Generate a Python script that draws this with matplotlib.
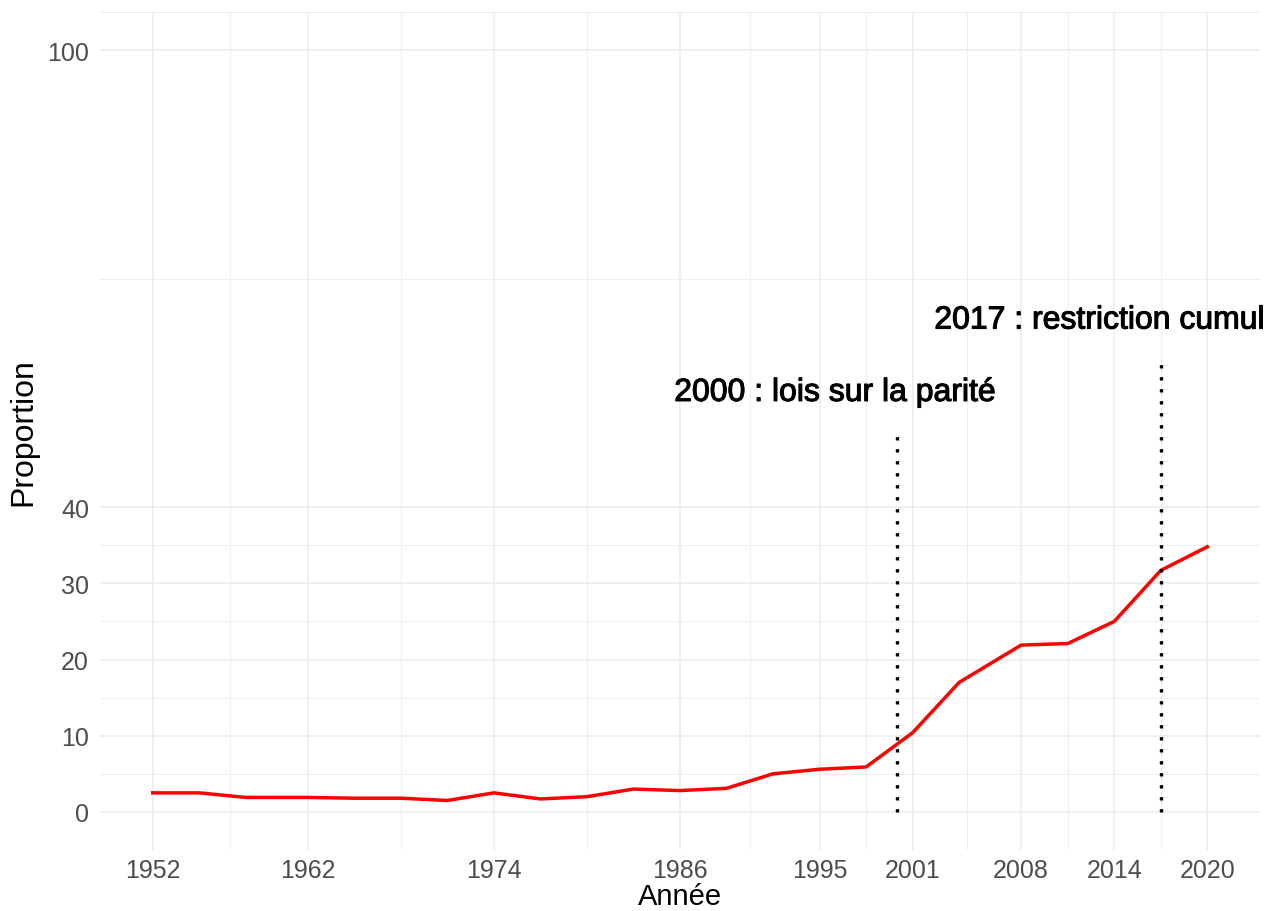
import matplotlib.pyplot as plt
import matplotlib.patheffects as pe

plt.rcParams['font.family'] = ['Liberation Sans', 'DejaVu Sans']

# election years and share of women (%)
annees = [1952, 1955, 1958, 1962, 1965, 1968, 1971, 1974, 1977, 1980, 1983,
          1986, 1989, 1992, 1995, 1998, 2001, 2004, 2008, 2011, 2014, 2017, 2020]
proportion = [2.5, 2.5, 1.9, 1.9, 1.8, 1.8, 1.5, 2.5, 1.7, 2.0, 3.0,
              2.8, 3.1, 5.0, 5.6, 5.9, 10.4, 17.0, 21.9, 22.1, 25.0, 31.7, 34.8]

x_breaks = [1952, 1962, 1974, 1986, 1995, 2001, 2008, 2014, 2020]
x_minor = [1957, 1968, 1980, 1990.5, 1998, 2004.5, 2011, 2017]
y_breaks = [0, 10, 20, 30, 40, 100]
y_minor = [-5, 5, 15, 25, 35, 70, 105]

# annotations: (year of the law, segment top, label x, label y, text, align)
evenements = [
    (2000, 49.5, 1996, 55, "2000 : lois sur la parité", 'center'),
    (2017, 59.5, 2002.4, 64.5, "2017 : restriction cumul", 'left'),
]

fig = plt.figure(figsize=(12.68, 9.12), dpi=100)
ax = fig.add_axes([100 / 1268, 61 / 912, 1160 / 1268, 838 / 912])

for s in ax.spines.values():
    s.set_visible(False)

ax.set_xlim(1952 - 3.4, 2020 + 3.4)
ax.set_ylim(-5, 105)
ax.set_xticks(x_breaks)
ax.set_xticks(x_minor, minor=True)
ax.set_yticks(y_breaks)
ax.set_yticks(y_minor, minor=True)
ax.grid(which='major', color='#EBEBEB', lw=1.1)
ax.grid(which='minor', color='#EBEBEB', lw=0.6)
ax.set_axisbelow(True)
ax.tick_params(which='both', length=0)
ax.tick_params(axis='x', pad=6, labelsize=18, labelcolor='#4D4D4D')
ax.tick_params(axis='y', pad=8, labelsize=18, labelcolor='#4D4D4D')

ax.plot(annees, proportion, color='red', lw=2.5, zorder=3)

for an, haut, tx, ty, texte, ha in evenements:
    ax.plot([an, an], [0, haut], color='black', lw=2.4,
            linestyle=(0, (1, 2.6)), dash_capstyle='butt', zorder=4)
    ax.text(tx, ty, texte, ha=ha, va='center', fontsize=23, color='black',
            path_effects=[pe.withStroke(linewidth=0.8, foreground='black')],
            clip_on=False)

ax.set_xlabel("Année", fontsize=21, labelpad=0)
ax.set_ylabel("Proportion", fontsize=23, labelpad=6)

fig.savefig("out.png", dpi=100)
